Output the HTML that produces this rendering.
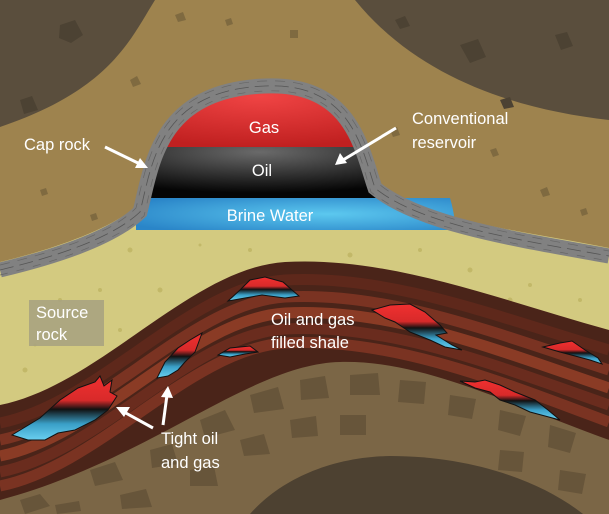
<!DOCTYPE html>
<html><head><meta charset="utf-8"><style>
html,body{margin:0;padding:0;background:#fff}
svg{display:block}
text{font-family:"Liberation Sans",sans-serif;fill:#fff;font-size:16.5px}
</style></head><body>
<svg width="609" height="514" viewBox="0 0 609 514" xmlns="http://www.w3.org/2000/svg">
<defs>
<linearGradient id="pk" x1="0" y1="0" x2="0" y2="1">
<stop offset="0" stop-color="#f03030"/><stop offset="0.38" stop-color="#d82a2a"/><stop offset="0.52" stop-color="#111"/><stop offset="0.75" stop-color="#3aa0c8"/><stop offset="1" stop-color="#6ad0f0"/></linearGradient>
<radialGradient id="gas" cx="0.5" cy="0.3" r="0.7"><stop offset="0" stop-color="#f04444"/><stop offset="1" stop-color="#c02020"/></radialGradient>
<radialGradient id="oil" cx="0.5" cy="0.1" r="0.8"><stop offset="0" stop-color="#6a6a6a"/><stop offset="1" stop-color="#050505"/></radialGradient>
<radialGradient id="brine" cx="0.6" cy="0.5" r="0.7"><stop offset="0" stop-color="#5cc8ef"/><stop offset="1" stop-color="#2a85c8"/></radialGradient>
<clipPath id="dome"><path d="M140,212 C152,165 158,90 265,86 C352,82 362,150 375,188 L385,205 L130,205 Z"/></clipPath>
</defs>
<rect width="609" height="514" fill="#d3ca80"/>
<g fill="#c2b868">
<circle cx="60" cy="300" r="2"/><circle cx="130" cy="250" r="2.5"/><circle cx="200" cy="245" r="1.5"/><circle cx="250" cy="250" r="2"/><circle cx="350" cy="255" r="2.5"/><circle cx="420" cy="250" r="2"/><circle cx="470" cy="270" r="2.5"/><circle cx="530" cy="285" r="2"/><circle cx="580" cy="300" r="2"/><circle cx="25" cy="370" r="2.5"/><circle cx="70" cy="380" r="2"/><circle cx="120" cy="330" r="2"/><circle cx="160" cy="290" r="2.5"/><circle cx="100" cy="290" r="2"/><circle cx="35" cy="345" r="1.5"/><circle cx="430" cy="280" r="1.5"/><circle cx="510" cy="300" r="2.5"/>
</g>
<path d="M0,495 C100,470 200,380 300,360 C400,340 500,395 609,440 L609,514 L0,514 Z" fill="#7b6646"/>
<g fill="#67553a">
<path d="M20,500 l20,-6 10,12 -25,8 z"/><path d="M90,470 l25,-8 8,18 -28,6 z"/><path d="M150,450 l22,-6 6,20 -26,4 z"/><path d="M200,420 l25,-10 10,20 -30,8 z"/><path d="M250,395 l28,-8 6,22 -30,4 z"/><path d="M300,380 l25,-4 4,22 -28,2 z"/><path d="M350,375 l28,-2 2,22 -30,0 z"/><path d="M400,380 l26,2 -2,22 -26,-2 z"/><path d="M450,395 l26,4 -4,20 -24,-4 z"/><path d="M500,410 l26,6 -6,20 -22,-6 z"/><path d="M550,425 l26,8 -6,20 -22,-6 z"/><path d="M120,495 l26,-6 6,18 -30,2 z"/><path d="M190,470 l24,-4 4,20 -28,0 z"/><path d="M240,440 l24,-6 6,20 -26,2 z"/><path d="M290,420 l26,-4 2,20 -26,2 z"/><path d="M340,415 l26,0 0,20 -26,0 z"/><path d="M560,470 l26,4 -4,20 -24,-4 z"/><path d="M500,450 l24,2 -2,20 -24,-2 z"/><path d="M55,505 l24,-4 2,10 -24,3 z"/>
</g>
<path d="M250,514 C280,480 330,457 390,456 C470,456 540,480 583,514 Z" fill="#4d4131"/>
<path d="M0,405 C100,385 190,268 285,262 C390,256 500,300 609,330 L609,440 C500,400 420,360 340,362 C250,364 150,460 0,500 Z" fill="#4a2419"/>
<g fill="none" stroke-width="11">
<path d="M0,423 C100,403 190,286 285,280 C390,274 500,318 609,350" stroke="#5e281b"/>
<path d="M0,440 C100,420 190,303 285,297 C390,291 500,335 609,370" stroke="#7a3322"/>
<path d="M0,456 C100,436 190,319 285,313 C390,307 500,351 609,388" stroke="#8a3b25"/>
<path d="M0,472 C100,452 190,335 285,329 C390,323 500,367 609,405" stroke="#6a2c1e"/>
<path d="M0,486 C100,466 190,349 285,343 C390,337 500,381 609,422" stroke="#7a3322"/>
</g>
<g fill="url(#pk)" stroke="#111" stroke-width="1">
<path d="M12,435 L40,418 60,400 78,388 95,382 100,376 104,386 112,380 110,392 117,396 108,410 95,420 75,430 58,433 45,440 28,440 Z"/>
<path d="M157,378 L165,362 178,348 190,340 202,333 198,344 195,352 185,362 178,370 168,376 Z"/>
<path d="M218,355 L230,348 250,346 258,352 245,354 230,357 Z"/>
<path d="M228,301 L240,290 250,280 265,277 283,282 292,290 299,296 285,298 262,295 245,298 Z"/>
<path d="M372,310 L390,305 410,304 425,312 440,325 447,333 436,335 452,345 462,350 445,347 430,340 410,332 395,322 385,318 Z"/>
<path d="M543,347 L560,343 572,341 585,350 598,358 602,364 590,360 575,356 560,352 Z"/>
<path d="M460,381 L475,382 485,380 500,385 515,392 535,400 548,410 560,420 545,416 530,412 515,405 500,400 490,392 475,388 Z"/>
</g>
<path d="M0,262 C50,250 110,230 138,205 C150,160 160,90 265,82 C350,78 365,150 380,185 C420,220 520,230 609,248 L609,0 L0,0 Z" fill="#9e834e"/>
<path d="M0,0 L155,0 C130,40 110,90 0,127 Z" fill="#5a4e3d"/>
<path d="M355,0 L609,0 L609,120 C520,110 420,80 355,0 Z" fill="#5a4e3d"/>
<g fill="#7f6a40">
<path d="M175,15 l8,-3 3,8 -8,2z"/><path d="M225,20 l6,-2 2,6 -6,2z"/><path d="M130,80 l7,-4 4,8 -8,3z"/><path d="M290,30 l8,0 0,8 -8,0z"/><path d="M330,100 l6,-2 3,7 -6,1z"/><path d="M390,130 l7,-3 3,8 -7,2z"/><path d="M490,150 l6,-2 3,7 -6,2z"/><path d="M40,190 l6,-2 2,6 -6,2z"/><path d="M90,215 l6,-2 2,6 -6,2z"/><path d="M540,190 l7,-3 3,8 -7,2z"/><path d="M580,210 l6,-2 2,6 -6,2z"/>
</g>
<g fill="#4c4233">
<path d="M60,25 l15,-5 8,15 -12,8 -12,-5z"/><path d="M20,100 l12,-4 6,14 -14,4z"/><path d="M460,45 l18,-6 8,18 -16,6z"/><path d="M555,35 l12,-3 6,14 -12,4z"/><path d="M395,20 l10,-4 5,10 -10,3z"/><path d="M500,100 l10,-3 4,10 -10,2z"/>
</g>
<path d="M136,198 L450,198 C455,215 455,225 455,230 L136,230 Z" fill="url(#brine)"/>
<g clip-path="url(#dome)">
<rect x="120" y="75" width="280" height="72" fill="url(#gas)"/>
<rect x="120" y="147" width="280" height="51" fill="url(#oil)"/>
</g>
<path d="M0,270 C50,258 110,240 140,212 C152,165 158,90 265,86 C352,82 362,150 375,188 C420,225 520,240 609,256" fill="none" stroke="#818181" stroke-width="15"/>
<path d="M0,270 C50,258 110,240 140,212 C152,165 158,90 265,86 C352,82 362,150 375,188 C420,225 520,240 609,256" fill="none" stroke="#555" stroke-width="0.8" stroke-dasharray="14,6"/>
<path d="M0,265 C50,253 110,235 136,208 C148,161 156,85 265,81 C354,77 366,147 379,184 C423,221 520,235 609,251" fill="none" stroke="#666" stroke-width="0.7" stroke-dasharray="10,8"/>
<path d="M0,275 C50,263 110,245 144,216 C156,169 160,95 265,91 C350,87 358,153 371,192 C417,229 520,245 609,261" fill="none" stroke="#666" stroke-width="0.7" stroke-dasharray="8,9"/>
<rect x="29" y="300" width="75" height="46" fill="#a9a37f" opacity="0.9"/>
<g stroke="#fff" stroke-width="3" fill="#fff">
<line x1="105" y1="147" x2="140" y2="164"/><polygon points="148,168 135,168 140,158" stroke="none"/>
<line x1="396" y1="128" x2="343" y2="160"/><polygon points="335,165 340,153 347,163" stroke="none"/>
<line x1="153" y1="428" x2="124" y2="412"/><polygon points="116,407 130,407 124,417" stroke="none"/>
<line x1="163" y1="425" x2="167" y2="395"/><polygon points="168,386 173,398 161,397" stroke="none"/>
</g>
<g>
<text x="264" y="133" text-anchor="middle">Gas</text>
<text x="262" y="176" text-anchor="middle">Oil</text>
<text x="270" y="221" text-anchor="middle">Brine Water</text>
<text x="24" y="150">Cap rock</text>
<text x="412" y="124">Conventional</text>
<text x="412" y="148">reservoir</text>
<text x="36" y="318">Source</text>
<text x="36" y="340">rock</text>
<text x="271" y="325">Oil and gas</text>
<text x="271" y="348">filled shale</text>
<text x="161" y="444">Tight oil</text>
<text x="161" y="468">and gas</text>
</g>
</svg>
</body></html>
